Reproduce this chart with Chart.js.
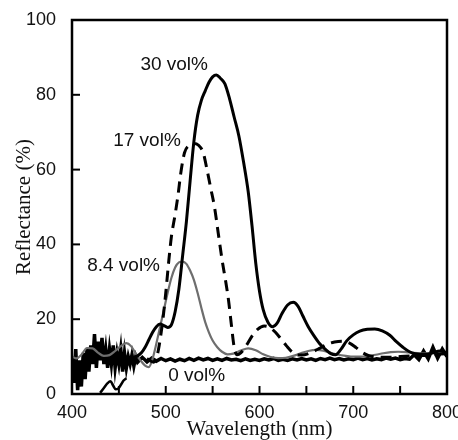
<!DOCTYPE html>
<html>
<head>
<meta charset="utf-8">
<script src="https://cdn.jsdelivr.net/npm/chart.js@4.4.1/dist/chart.umd.min.js"></script>
<style>
    html, body { margin: 0; padding: 0; background: #fff; }
    #wrap { width: 458px; height: 440px; }
</style>
</head>
<body>
<div id="wrap"><canvas id="chart" width="458" height="440"></canvas></div>
<script>
// wavelength (nm) / reflectance (%)
const wl30 = [462, 466, 470, 474, 478, 482, 486, 490, 494, 498, 502, 506, 510, 514, 518, 522, 526, 530, 534, 538,
    542, 546, 550, 554, 558, 563, 568, 573, 578, 583, 588, 592, 596, 600, 604, 609, 614, 619, 624, 630,
    636, 641, 646, 652, 658, 664, 670, 676, 681, 687, 693, 700, 707, 715, 723, 731, 739, 746, 753, 760,
    766, 775, 785, 792, 800];
const r30 = [9.5, 9.8, 10.2, 11, 12.5, 14.5, 16.5, 18, 18.7, 18.3, 17.8, 18.5, 22, 28, 37, 46, 57, 67.5, 74.5, 78.5,
    81, 83.3, 84.8, 85.3, 84.5, 83, 79, 74, 69, 62, 54, 45, 35, 27.5, 22.5, 19.2, 18, 19, 21.5, 23.8,
    24.5, 23.5, 21, 18, 15.6, 13.5, 12, 10.8, 10.5, 12, 14.2, 15.8, 16.8, 17.3, 17.4, 16.9, 15.7, 14, 12.5, 11.3,
    10.8, 10.6, 11, 11.5, 11];

const wl17 = [480, 484, 487, 490, 493, 497, 500, 503, 506, 510, 513, 516, 520, 525, 530, 535, 540, 544, 548, 552,
    556, 560, 564, 567, 570, 573, 576, 580, 586, 592, 598, 605, 611, 617, 623, 629, 635, 641, 648, 656,
    664, 672, 680, 688, 696, 703, 709, 716, 725, 735, 750, 765, 780, 800];
const r17 = [9.5, 8.8, 8.5, 9.5, 13, 20, 27, 35, 42, 48, 53, 59, 64.5, 66.5, 67, 66.5, 64.5, 60, 55, 50,
    43, 36, 30, 25, 18.5, 12.5, 10.5, 11, 13, 15.5, 17.3, 18.2, 17.8, 16.5, 14.7, 12.8, 11.2, 10.4, 10.5, 11.2,
    12.2, 13.3, 13.9, 14.1, 13.6, 12.4, 11.2, 10.3, 9.9, 9.8, 10, 10.2, 10.4, 10.8];

const wl84 = [400, 405, 410, 416, 422, 428, 434, 440, 446, 452, 458, 463, 468, 473, 478, 482, 486, 490, 494, 498,
    502, 506, 510, 514, 518, 522, 526, 530, 534, 538, 542, 546, 550, 555, 560, 566, 572, 580, 588, 596,
    604, 612, 620, 628, 636, 644, 652, 660, 668, 676, 684, 692, 700, 708, 716, 724, 732, 740, 748, 756,
    764, 772, 780, 790, 800];
const r84 = [10, 9.5, 10.5, 12.3, 12.2, 11, 10.2, 10.4, 11.5, 12.8, 13.6, 12.8, 10.8, 9, 7.6, 7.2, 9.5, 13.5, 18, 22.5,
    27, 31, 33.8, 35.2, 35.4, 34.8, 33, 30.5, 27, 23, 19.3, 16.5, 14.3, 12.5, 11.3, 10.6, 10.8, 11.6, 12.2, 11.7,
    10.6, 9.9, 9.6, 9.7, 10.2, 10.9, 11.5, 11.8, 11.6, 11, 10.5, 10.2, 10, 10, 10.2, 10.5, 10.9, 11.2, 11.3, 11.2,
    11, 10.9, 10.9, 11, 11.2];

const wl0 = [400, 402, 404, 406, 408, 410, 412, 414, 416, 418, 420, 422, 424, 426, 428, 430, 432, 434, 436, 438,
    440, 442, 444, 446, 448, 450, 452, 454, 456, 458, 460, 462, 464, 466, 468, 470,
    475, 480, 485, 490, 495, 500, 505, 510, 515, 520, 525, 530, 535, 540, 545, 550, 555, 560, 565, 570,
    575, 580, 585, 590, 595, 600, 605, 610, 615, 620, 625, 630, 635, 640, 645, 650, 655, 660, 665, 670,
    675, 680, 685, 690, 695, 700, 705, 710, 715, 720, 725, 730, 735, 740, 745, 750, 755, 760, 765, 770,
    775, 780, 785, 790, 795, 800];
const r0 = [10, 3, 12, 1, 9, 2, 11, 4, 12, 6, 13, 8, 16, 7, 14, 9, 15, 8, 12, 7,
    12, 8, 13, 7, 11, 8, 12, 6, 11, 7, 10, 8, 10.5, 7.5, 10, 8.5,
    9.8, 8.6, 9.6, 8.8, 9.5, 8.9, 9.4, 8.8, 9.3, 8.9, 9.5, 9.0, 9.6, 9.1, 9.5, 9.0, 9.4, 9.0, 9.5, 9.1,
    9.3, 8.9, 9.4, 9.0, 9.3, 9.0, 9.4, 9.1, 9.5, 9.0, 9.3, 9.0, 9.4, 9.1, 9.5, 9.1, 9.4, 9.0, 9.5, 9.2,
    9.6, 9.2, 9.5, 9.1, 9.4, 9.2, 9.6, 9.2, 9.5, 9.1, 9.4, 9.2, 9.6, 9.3, 9.6, 9.2, 9.5, 9.3, 10.5, 9.2,
    11.5, 9.4, 12.5, 9.6, 12, 10];

// short fragment near the floor at 430-458 nm
const wlLow = [430, 434, 438, 441, 444, 446.5, 449, 452, 455, 458];
const rLow = [0.3, 1.6, 2.9, 3.4, 2.2, 1.3, 1.4, 2.4, 3.6, 4.2];

const labelText = ["30 vol%", "17 vol%", "8.4 vol%", "0 vol%"];
const labelX = [509, 480, 455, 533];
const labelY = [88, 67.8, 34.4, 4.9];

const pts = (xs, ys) => xs.map((x, i) => ({ x: x, y: ys[i] }));

const framePlugin = {
    id: "frame",
    afterDraw(chart) {
        const { ctx, chartArea: a, scales } = chart;
        ctx.save();
        ctx.strokeStyle = "#000";
        ctx.lineWidth = 2;
        // inward ticks
        scales.x.ticks.forEach(t => {
            const px = scales.x.getPixelForValue(t.value);
            ctx.beginPath();
            ctx.moveTo(px, a.bottom);
            ctx.lineTo(px, a.bottom - 8);
            ctx.stroke();
        });
        scales.y.ticks.forEach(t => {
            const py = scales.y.getPixelForValue(t.value);
            ctx.beginPath();
            ctx.moveTo(a.left, py);
            ctx.lineTo(a.left + 8, py);
            ctx.stroke();
        });
        ctx.lineWidth = 2.5;
        ctx.strokeRect(a.left, a.top, a.right - a.left, a.bottom - a.top);

        ctx.fillStyle = "#111";
        ctx.font = "19px 'Liberation Sans', Arial, sans-serif";
        ctx.textAlign = "center";
        ctx.textBaseline = "middle";
        labelText.forEach((txt, i) => {
            ctx.fillText(txt, scales.x.getPixelForValue(labelX[i]), scales.y.getPixelForValue(labelY[i]));
        });
        ctx.restore();
    }
};

new Chart(document.getElementById("chart"), {
    type: "line",
    data: {
        datasets: [
            {
                label: "30 vol%",
                data: pts(wl30, r30),
                borderColor: "#000",
                borderWidth: 3,
                cubicInterpolationMode: "monotone"
            },
            {
                label: "17 vol%",
                data: pts(wl17, r17),
                borderColor: "#000",
                borderWidth: 3,
                borderDash: [11, 7],
                cubicInterpolationMode: "monotone"
            },
            {
                label: "8.4 vol%",
                data: pts(wl84, r84),
                borderColor: "#6e6e6e",
                borderWidth: 2.2,
                cubicInterpolationMode: "monotone"
            },
            {
                label: "0 vol%",
                data: pts(wl0, r0),
                borderColor: "#000",
                borderWidth: 3.5,
                tension: 0
            },
            {
                label: "0 vol% low",
                data: pts(wlLow, rLow),
                borderColor: "#000",
                borderWidth: 2.5,
                cubicInterpolationMode: "monotone"
            }
        ]
    },
    options: {
        responsive: false,
        animation: false,
        events: [],
        layout: { padding: { left: 0, right: 11, top: 20, bottom: 0 } },
        elements: { point: { radius: 0 } },
        plugins: {
            legend: { display: false },
            tooltip: { enabled: false }
        },
        scales: {
            x: {
                type: "linear",
                min: 400,
                max: 800,
                grid: { display: false },
                border: { display: false },
                ticks: {
                    stepSize: 50,
                    autoSkip: false,
                    maxRotation: 0,
                    padding: 0,
                    color: "#111",
                    font: { family: "'Liberation Sans', Arial, sans-serif", size: 18 },
                    callback: v => (v % 100 === 0 ? v : "")
                },
                title: {
                    display: true,
                    text: "Wavelength (nm)",
                    color: "#111",
                    font: { family: "'Liberation Serif', 'Times New Roman', serif", size: 21, lineHeight: 1.0 },
                    padding: { top: 0, bottom: 0 }
                },
                afterFit(scale) {
                    scale.height = 46;
                    scale.paddingLeft = 0;
                    scale.paddingRight = 0;
                }
            },
            y: {
                min: 0,
                max: 100,
                grid: { display: false },
                border: { display: false },
                ticks: {
                    stepSize: 20,
                    padding: 8,
                    color: "#111",
                    font: { family: "'Liberation Sans', Arial, sans-serif", size: 18 }
                },
                title: {
                    display: true,
                    text: "Reflectance (%)",
                    color: "#111",
                    font: { family: "'Liberation Serif', 'Times New Roman', serif", size: 21, lineHeight: 1.2 },
                    padding: { top: 12, bottom: 0 }
                },
                afterFit(scale) {
                    scale.width = 72;
                    scale.paddingTop = 0;
                    scale.paddingBottom = 0;
                }
            }
        }
    },
    plugins: [framePlugin]
});
</script>
</body>
</html>
